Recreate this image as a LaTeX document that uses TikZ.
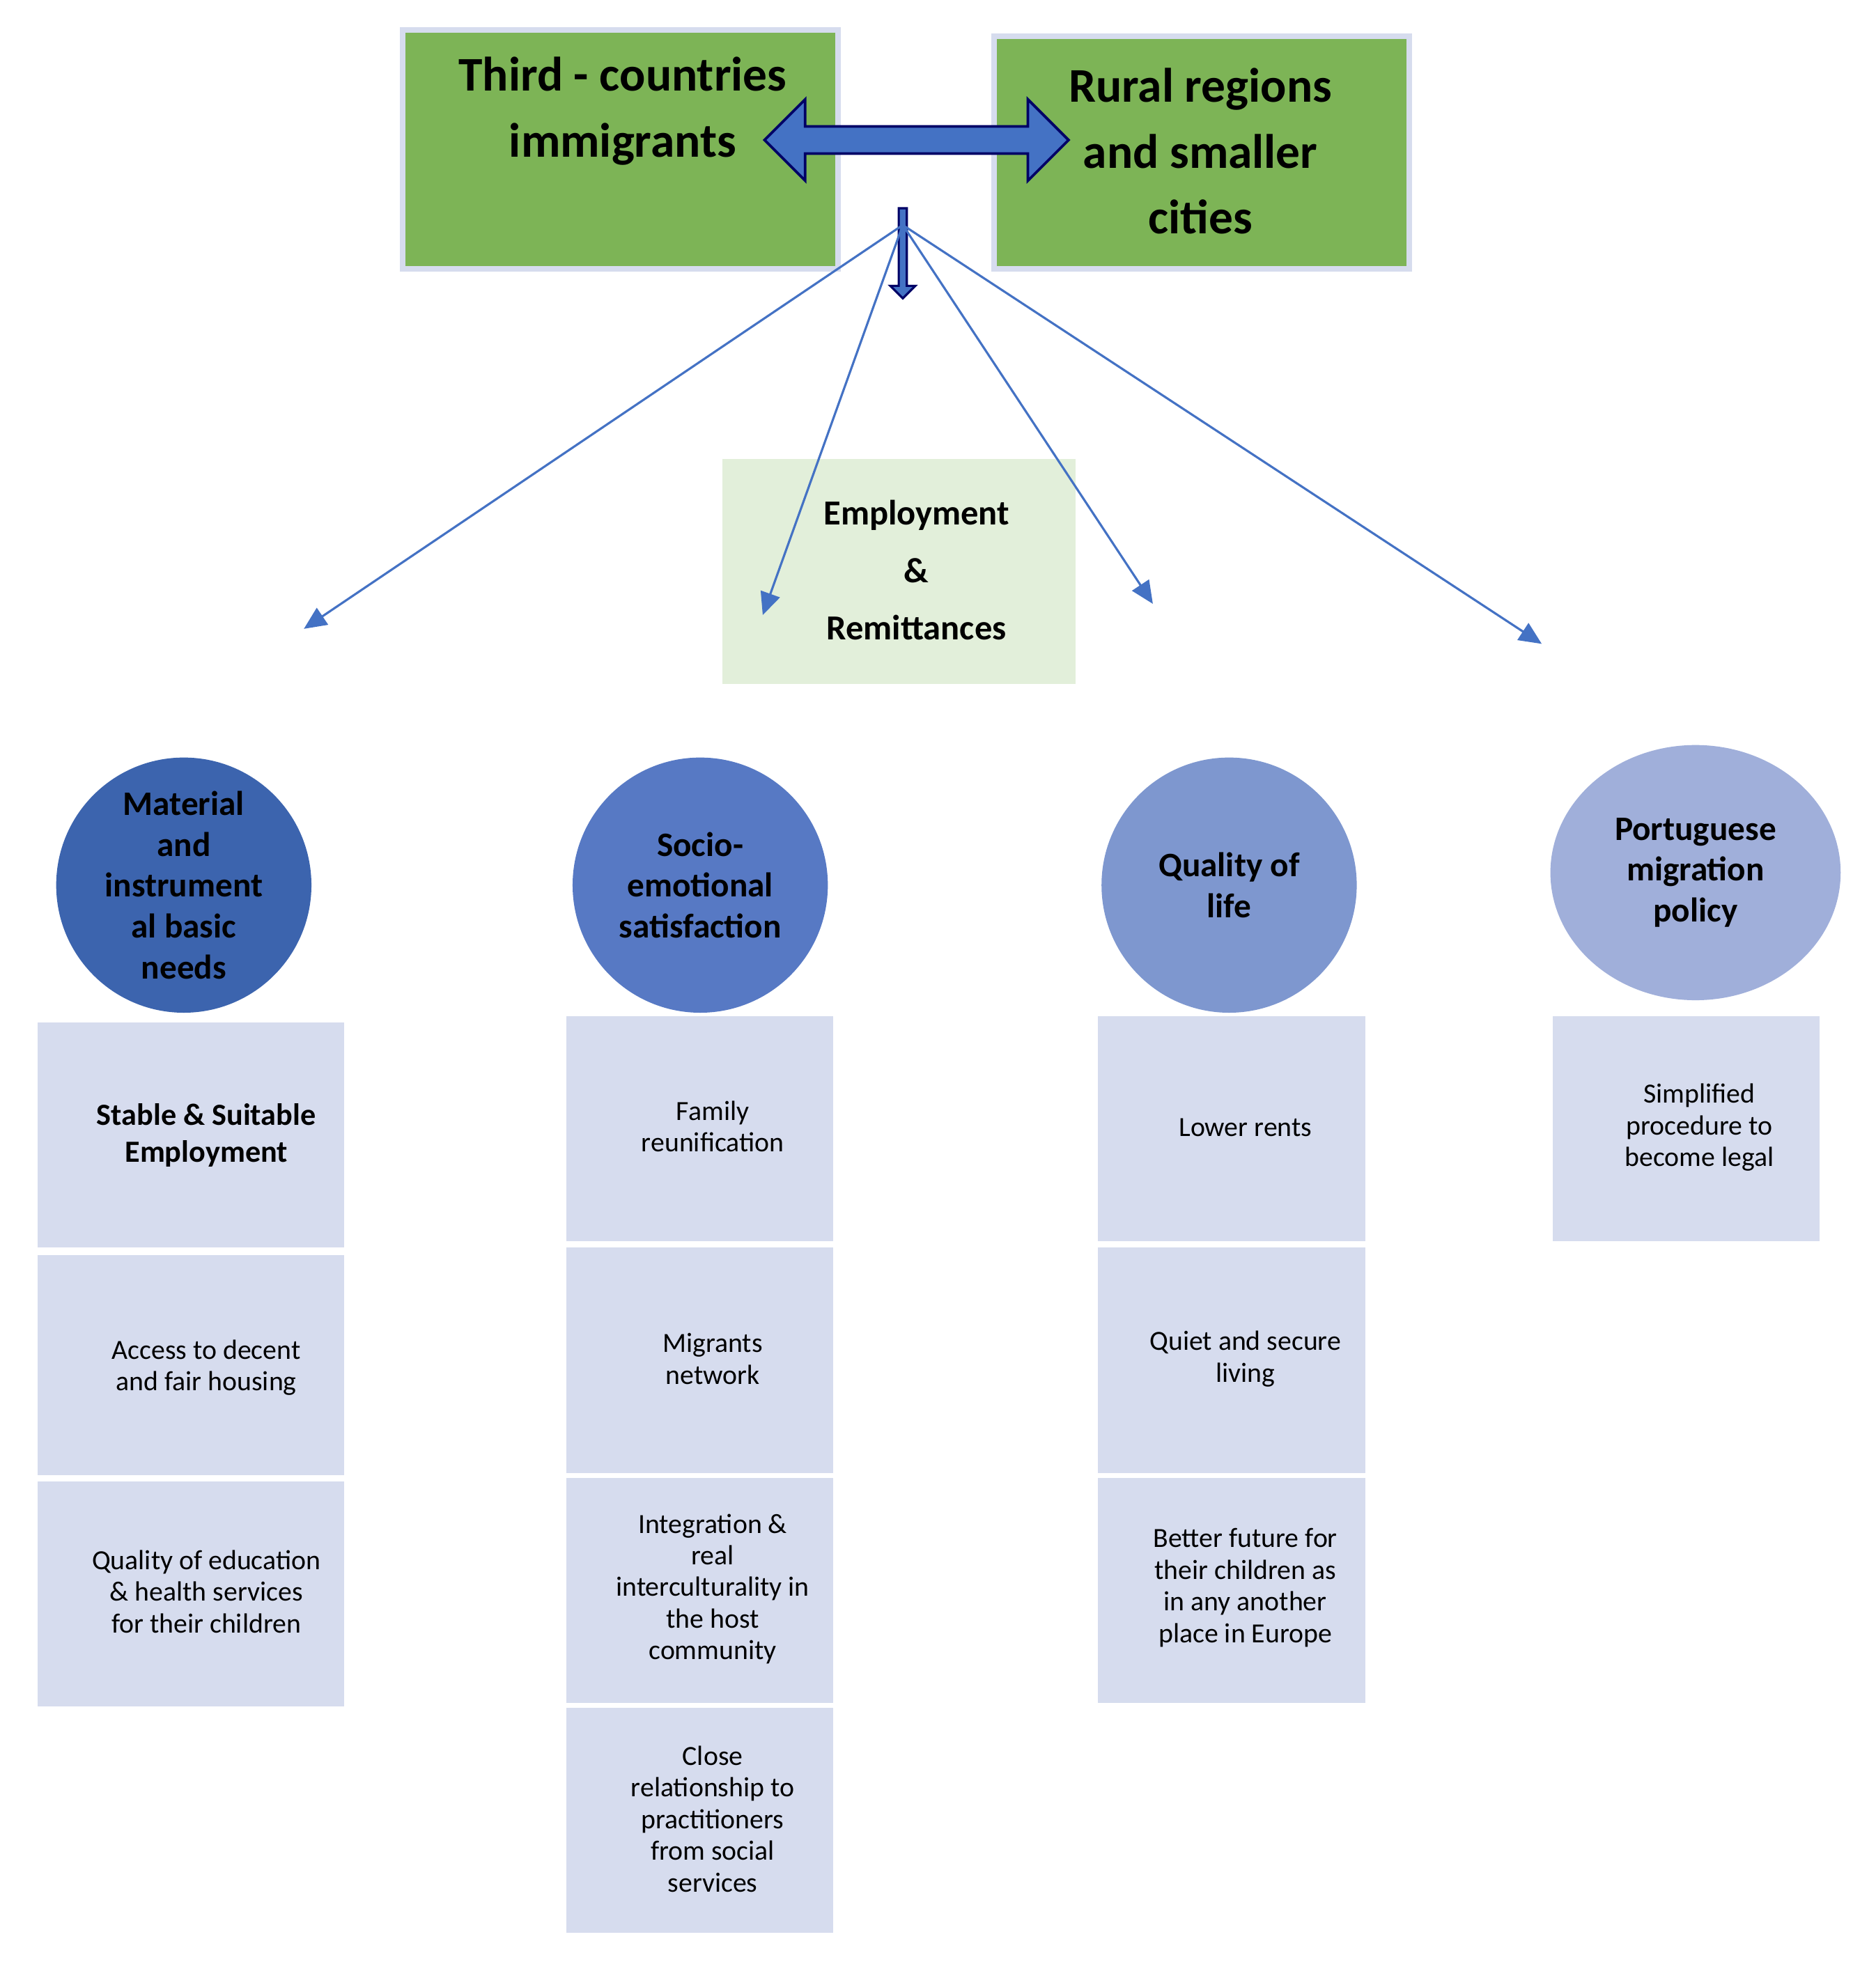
\documentclass[tikz,border=0pt]{standalone}
\usepackage{fontspec}
\setmainfont{Carlito}
\usetikzlibrary{shapes.arrows,shapes.geometric,arrows.meta}
\definecolor{grn}{HTML}{7DB456}
\definecolor{bl}{HTML}{4472C4}
\definecolor{pale}{HTML}{E2EFDA}
\definecolor{lb}{HTML}{D6DCEE}
\definecolor{c1}{HTML}{3C64AE}
\definecolor{c2}{HTML}{5779C4}
\definecolor{c3}{HTML}{7E97CF}
\definecolor{c4}{HTML}{A0AFDA}
\begin{document}
\begin{tikzpicture}[x=0.01cm,y=-0.01cm,
 gbox/.style={draw=lb,line width=1.2pt,fill=grn,minimum width=#1,inner sep=0pt,align=center,font=\bfseries\fontsize{11}{15}\selectfont},
 item/.style={fill=lb,minimum width=#1,minimum height=1.8cm,inner sep=0pt,align=center,font=\fontsize{6.3}{7.2}\selectfont},
 circ/.style={circle,fill=#1,minimum size=2.04cm,inner sep=0pt,align=center,font=\bfseries\fontsize{7.8}{9.3}\selectfont},
 ln/.style={bl,line width=0.5pt,-{Triangle[length=0.18cm,width=0.16cm]}}]
\useasboundingbox (0,0) rectangle (1500,1575);
% green boxes
\node[gbox=3.48cm,minimum height=1.91cm] (g1) at (496,119.5) {};
\node[font=\bfseries\fontsize{11}{15}\selectfont,align=center] (t1) at (498,89) {Third - countries\\immigrants};
\node[gbox=3.32cm,minimum height=1.86cm] (g2) at (961,122) {};
\node[font=\bfseries\fontsize{11}{15}\selectfont,align=center] (t2) at (960,121) {Rural regions\\and smaller\\cities};
% double arrow
\node[double arrow,fill=bl,draw=blue!40!black,line width=0.6pt,minimum width=0.65cm,double arrow head extend=0.17cm,minimum height=2.43cm,inner sep=0.075cm] (da) at (733,112) {};
% down arrow
\node[single arrow,shape border rotate=270,fill=bl,draw=blue!40!black,line width=0.5pt,minimum width=0.2cm,single arrow head extend=0.06cm,minimum height=0.72cm,inner sep=0.02cm] (dn) at (722,201) {};
% employment box
\node[fill=pale,minimum width=2.82cm,minimum height=1.8cm,inner sep=0pt] (emp) at (719,457) {};
\node[font=\bfseries\fontsize{8}{13}\selectfont,align=center] (empt) at (733,456) {Employment\\\&\\Remittances};
% connectors
\coordinate (src) at (722,180);
\coordinate (e1) at (243,503);
\coordinate (e2) at (610,492);
\coordinate (e3) at (922,483);
\coordinate (e4) at (1233,515);
\draw[ln] (src) -- (e1);
\draw[ln] (src) -- (e2);
\draw[ln] (src) -- (e3);
\draw[ln] (src) -- (e4);
% circles
\node[circ=c1] (k1) at (147,708) {Material\\and\\instrument\\al basic\\needs};
\node[circ=c2] (k2) at (560,708) {Socio-\\emotional\\satisfaction};
\node[circ=c3] (k3) at (983,708) {Quality of\\life};
\node[ellipse,fill=c4,minimum width=2.32cm,minimum height=2.04cm,inner sep=0pt,align=center,font=\bfseries\fontsize{7.8}{9.3}\selectfont] (k4) at (1356,698) {Portuguese\\migration\\policy};
% column 1
\node[item=2.45cm,minimum height=1.8cm] (a1) at (152.5,908) {};
\node[font=\bfseries\fontsize{7}{8.5}\selectfont,align=center] at (165,908) {Stable \& Suitable\\Employment};
\node[item=2.45cm,minimum height=1.76cm] (a2) at (152.5,1092) {};
\node[font=\fontsize{6.3}{7.2}\selectfont,align=center] at (165,1094) {Access to decent\\and fair housing};
\node[item=2.45cm] (a3) at (152.5,1275) {};
\node[font=\fontsize{6.3}{7.2}\selectfont,align=center] at (165,1273) {Quality of education\\\& health services\\for their children};
% column 2
\node[item=2.13cm] (b1) at (559.5,903) {};
\node[font=\fontsize{6.3}{7.2}\selectfont,align=center] at (570,901) {Family\\reunification};
\node[item=2.13cm] (b2) at (559.5,1088) {};
\node[font=\fontsize{6.3}{7.2}\selectfont,align=center] at (570,1087) {Migrants\\network};
\node[item=2.13cm] (b3) at (559.5,1272) {};
\node[font=\fontsize{6.3}{7.2}\selectfont,align=center] at (570,1271) {Integration \&\\real\\interculturality in\\the host\\community};
\node[item=2.13cm] (b4) at (559.5,1456) {};
\node[font=\fontsize{6.3}{7.2}\selectfont,align=center] at (570,1455) {Close\\relationship to\\practitioners\\from social\\services};
% column 3
\node[item=2.14cm] (c1n) at (985,903) {};
\node[font=\fontsize{6.3}{7.2}\selectfont,align=center] at (996,902) {Lower rents};
\node[item=2.14cm] (c2n) at (985,1088) {};
\node[font=\fontsize{6.3}{7.2}\selectfont,align=center] at (996,1087) {Quiet and secure\\living};
\node[item=2.14cm] (c3n) at (985,1272) {};
\node[font=\fontsize{6.3}{7.2}\selectfont,align=center] at (996,1270) {Better future for\\their children as\\in any another\\place in Europe};
% column 4
\node[item=2.13cm] (d1) at (1348.5,903) {};
\node[font=\fontsize{6.3}{7.2}\selectfont,align=center] at (1359,902) {Simplified\\procedure to\\become legal};
\end{tikzpicture}
\end{document}
